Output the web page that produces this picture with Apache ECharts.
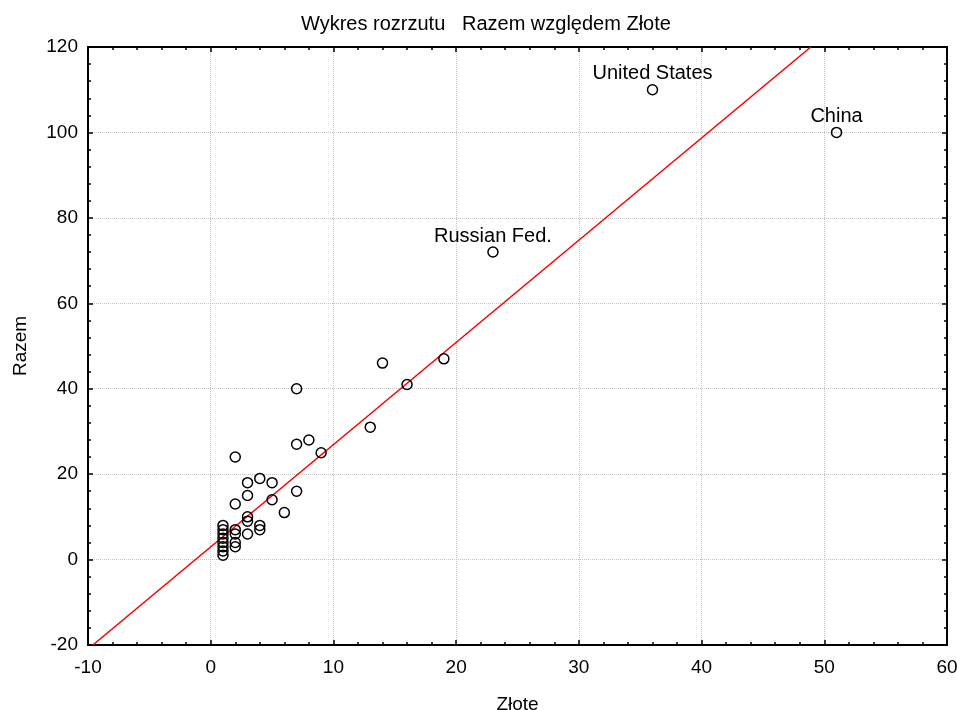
<!DOCTYPE html>
<html>
<head>
<meta charset="utf-8">
<script src="https://cdn.jsdelivr.net/npm/echarts@6/dist/echarts.min.js"></script>
<style>html,body{margin:0;padding:0;background:#fff;}#chart{width:957px;height:710px;}</style>
</head>
<body>
<div id="chart"></div>
<script>
// Data
const xVals = [1,1,1,1,1,1,1,1, 2,2,2,2,2,2, 3,3,3,3,3, 4,4,4, 5,5, 6, 7,7,7, 8, 9, 13, 14, 16, 19, 23, 36, 51];
const yVals = [1,2,3,4,5,6,7,8, 3,4,6,7,13,24, 6,9,10,15,18, 7,8,19, 14,18, 11, 16,27,40, 28, 25, 31, 46, 41, 47, 72, 110, 100];
const pointNames = ['','','','','','','','', '','','','','','', '','','','','', '','','', '','', '', '','','', '', '', '', '', '', '', 'Russian Fed.', 'United States', 'China'];
const fitX = [-9.6, 48.9];
const fitY = [-20, 120];
const xTicks = {min: -10, max: 60, interval: 10};
const yTicks = {min: -20, max: 120, interval: 20};

const font = 'Arial, "Liberation Sans", sans-serif';
const scatterData = xVals.map((x, i) => ({value: [x, yVals[i]], name: pointNames[i],
  label: {show: pointNames[i] !== ''}}));
const fitData = fitX.map((x, i) => [x, fitY[i]]);

const chart = echarts.init(document.getElementById('chart'), null, {renderer: 'canvas'});
const axisCommon = {
  axisLine: {show: true, onZero: false, lineStyle: {color: '#000', width: 2}},
  axisTick: {show: true, inside: true, length: 5, lineStyle: {color: '#000', width: 1.5}},
  minorTick: {show: true, splitNumber: 5, length: 3, lineStyle: {color: '#000', width: 1.5}},
};
chart.setOption({
  animation: false,
  backgroundColor: '#fff',
  title: {
    text: 'Wykres rozrzutu   Razem względem Złote',
    left: 296, top: 9,
    textStyle: {fontFamily: font, fontSize: 20, fontWeight: 'normal', color: '#000'}
  },
  grid: {left: 88, right: 10, top: 47, bottom: 65, containLabel: false, outerBoundsMode: 'none'},
  xAxis: [
    Object.assign({}, axisCommon, {
      type: 'value', position: 'bottom', min: xTicks.min, max: xTicks.max, interval: xTicks.interval,
      name: 'Złote', nameLocation: 'middle', nameGap: 50,
      nameTextStyle: {fontFamily: font, fontSize: 19, color: '#000'},
      axisLabel: {fontFamily: font, fontSize: 19, color: '#000', margin: 13},
      splitLine: {show: true, lineStyle: {color: '#c4c4c4', type: 'dotted', width: 1}}
    }),
    Object.assign({}, axisCommon, {
      type: 'value', position: 'top', min: xTicks.min, max: xTicks.max, interval: xTicks.interval,
      axisLabel: {show: false}, splitLine: {show: false}
    })
  ],
  yAxis: [
    Object.assign({}, axisCommon, {
      type: 'value', position: 'left', min: yTicks.min, max: yTicks.max, interval: yTicks.interval,
      name: 'Razem', nameLocation: 'middle', nameGap: 58, nameRotate: 90,
      nameTextStyle: {fontFamily: font, fontSize: 19, color: '#000'},
      axisLabel: {fontFamily: font, fontSize: 19, color: '#000', margin: 10},
      splitLine: {show: true, lineStyle: {color: '#c4c4c4', type: 'dotted', width: 1}}
    }),
    Object.assign({}, axisCommon, {
      type: 'value', position: 'right', min: yTicks.min, max: yTicks.max, interval: yTicks.interval,
      axisLabel: {show: false}, splitLine: {show: false}
    })
  ],
  series: [
    {
      type: 'line', data: fitData, xAxisIndex: 0, yAxisIndex: 0,
      showSymbol: false, symbol: 'none', clip: true,
      lineStyle: {color: '#ff0000', width: 1.6}, z: 2, silent: true
    },
    {
      type: 'scatter', data: scatterData, xAxisIndex: 0, yAxisIndex: 0,
      symbol: 'circle', symbolSize: 10, z: 3,
      itemStyle: {color: 'rgba(0,0,0,0)', borderColor: '#000', borderWidth: 1.5, opacity: 1},
      label: {position: 'top', distance: 0, formatter: p => p.name,
        fontFamily: font, fontSize: 20, color: '#000', opacity: 1, textBorderWidth: 0}
    }
  ]
});
</script>
</body>
</html>
